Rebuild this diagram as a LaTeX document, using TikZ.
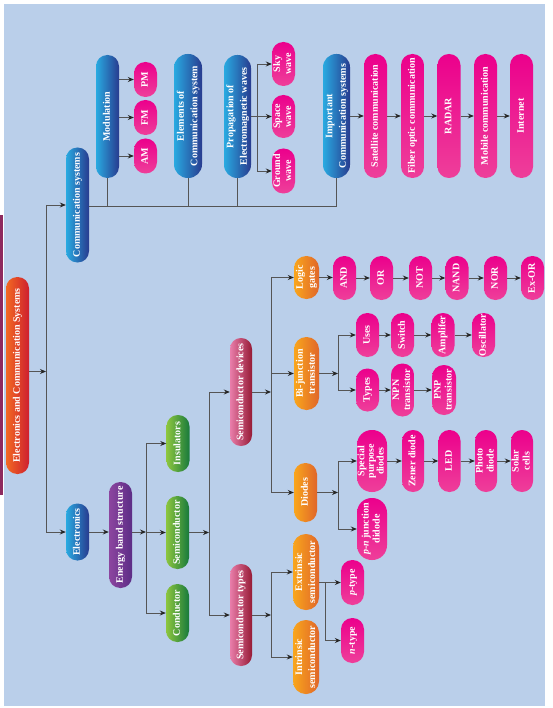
\documentclass[tikz,border=0pt]{standalone}
\usepackage{fontspec}
\setmainfont{Liberation Serif}
\usepackage{graphicx}
\usetikzlibrary{arrows.meta}
\definecolor{bgc}{HTML}{BACFEA}
\definecolor{stripc}{HTML}{8E2A5E}
\definecolor{lc}{HTML}{555555}
\definecolor{bA}{HTML}{29AAE1}
\definecolor{bB}{HTML}{283B8F}
\definecolor{pA}{HTML}{EC008C}
\definecolor{pB}{HTML}{EE3F9A}
\definecolor{oA}{HTML}{F9A61C}
\definecolor{oB}{HTML}{E0662A}
\definecolor{gA}{HTML}{8DC63F}
\definecolor{gB}{HTML}{187A3C}
\definecolor{vA}{HTML}{8C459F}
\definecolor{vB}{HTML}{5C2D86}
\definecolor{rA}{HTML}{E97DAA}
\definecolor{rB}{HTML}{961A35}
\definecolor{tA}{HTML}{F26922}
\definecolor{tB}{HTML}{CE1F2F}
\newcommand{\rt}[2][12pt]{\rotatebox{90}{\fontsize{10}{#1}\selectfont\begin{tabular}{@{}c@{}}#2\end{tabular}}}
\tikzset{
  every node/.style={font=\fontsize{10}{12}\selectfont\bfseries, text=white, inner sep=0pt},
  pill/.style 2 args={minimum width=#1pt, minimum height=#2pt, rounded corners=#1*0.49pt},
  bluebox/.style={left color=bA, right color=bB},
  pinkbox/.style={top color=pA, bottom color=pB},
  orangebox/.style={left color=oA, right color=oB},
  greenbox/.style={left color=gA, right color=gB},
  violetbox/.style={left color=vA, right color=vB},
  redbox/.style={left color=rA, right color=rB},
  rootbox/.style={left color=tA, right color=tB},
  line/.style={draw=lc, line width=0.9pt},
  arr/.style={line, -{Stealth[length=6pt,width=5pt,color=black!85]}},
}
\begin{document}
\begin{tikzpicture}[x=1pt,y=-1pt]
\useasboundingbox (0,0) rectangle (552,708);
\fill[bgc] (3.5,4) rectangle (545,706);
\fill[stripc] (0,215) rectangle (3,495);

% coordinates for buses
\coordinate (xr) at (46,0);
\coordinate (xa) at (146,0);
\coordinate (xb) at (209,0);
\coordinate (xc) at (271,0);
\coordinate (xd) at (338,0);
\coordinate (xe) at (325,0);
\coordinate (xp) at (257,0);
\coordinate (yc) at (0,206);

% root
\node[rootbox, pill={23}{197}] (root) at (17.5,375.5) {\rt{Electronics and Communication Systems}};

% communication
\node[bluebox, pill={23}{115}] (comm) at (77.5,205) {\rt{Communication systems}};
\node[bluebox, pill={23}{123}] (mod) at (107.5,116.5) {\rt{Modulation}};
\node[pinkbox, pill={23}{35}] (pm) at (145.5,79.5) {\rt{PM}};
\node[pinkbox, pill={23}{35}] (fm) at (145.5,117.5) {\rt{FM}};
\node[pinkbox, pill={23}{35}] (am) at (145.5,156) {\rt{AM}};
\node[bluebox, pill={28}{124}] (elem) at (188,116) {\rt[13.5pt]{Elements of\\Communication system}};
\node[bluebox, pill={27}{123}] (prop) at (237.5,116.5) {\rt[13.5pt]{Propagation of\\Electromagnetic waves}};
\node[pinkbox, pill={23}{44}] (sky) at (283.5,64) {\rt[11pt]{Sky\\wave}};
\node[pinkbox, pill={23}{43}] (space) at (283.5,116.5) {\rt[11pt]{Space\\wave}};
\node[pinkbox, pill={23}{45}] (ground) at (283.5,171) {\rt[11pt]{Ground\\wave}};
\node[bluebox, pill={27}{124}] (imp) at (336.5,116) {\rt[13.5pt]{Important\\Communication systems}};
\node[pinkbox, pill={23}{124}] (sat) at (375.5,116) {\rt{Satellite communication}};
\node[pinkbox, pill={23}{124}] (fiber) at (412.5,116) {\rt{Fiber optic communication}};
\node[pinkbox, pill={23}{124}] (radar) at (449,116) {\rt{RADAR}};
\node[pinkbox, pill={23}{124}] (mobile) at (485.5,116) {\rt{Mobile communication}};
\node[pinkbox, pill={23}{124}] (internet) at (521.5,116) {\rt{Internet}};

% electronics
\node[bluebox, pill={23}{57}] (elec) at (77.5,532) {\rt{Electronics}};
\node[violetbox, pill={23}{106}] (eb) at (120.5,535) {\rt{Energy band structure}};
\node[greenbox, pill={23}{57}] (ins) at (178,443.5) {\rt{Insulators}};
\node[greenbox, pill={23}{73}] (semi) at (177.5,532.5) {\rt{Semiconductor}};
\node[greenbox, pill={23}{58}] (cond) at (177.5,613) {\rt{Conductor}};
\node[redbox, pill={22}{108}] (sdev) at (241,392) {\rt{Semiconductor devices}};
\node[redbox, pill={22}{102}] (stype) at (241,615) {\rt{Semiconductor types}};

\node[orangebox, pill={25}{43}] (logic) at (306.5,277.5) {\rt{Logic\\gates}};
\node[pinkbox, pill={23}{44}] (and) at (344.5,278) {\rt{AND}};
\node[pinkbox, pill={23}{44}] (or) at (381.5,278) {\rt{OR}};
\node[pinkbox, pill={23}{44}] (not) at (420.5,278) {\rt{NOT}};
\node[pinkbox, pill={23}{44}] (nand) at (457,278) {\rt{NAND}};
\node[pinkbox, pill={23}{44}] (nor) at (495.5,278) {\rt{NOR}};
\node[pinkbox, pill={23}{44}] (exor) at (532.5,278) {\rt{Ex-OR}};

\node[orangebox, pill={25}{73}] (bjt) at (306.5,373.5) {\rt{Bi-junction\\transistor}};
\node[pinkbox, pill={23}{44}] (uses) at (367.5,335) {\rt{Uses}};
\node[pinkbox, pill={23}{44}] (switch) at (402.5,335) {\rt{Switch}};
\node[pinkbox, pill={23}{44}] (amp) at (443,335) {\rt{Amplifer}};
\node[pinkbox, pill={23}{44}] (osc) at (483.5,335) {\rt{Oscillator}};
\node[pinkbox, pill={23}{43}] (types) at (367.5,390) {\rt{Types}};
\node[pinkbox, pill={23}{53}] (npn) at (402.5,390) {\rt[11pt]{NPN\\transistor}};
\node[pinkbox, pill={24}{50}] (pnp) at (444,390) {\rt[11pt]{PNP\\transistor}};

\node[orangebox, pill={23}{59}] (diodes) at (305.5,492.5) {\rt{Diodes}};
\node[pinkbox, pill={30}{62}] (spd) at (372,461) {\rt[9.5pt]{Special\\purpose\\diodes}};
\node[pinkbox, pill={30}{62}] (pn) at (372,529) {\rt[11pt]{\textit{p}-\textit{n} junction\\didode}};
\node[pinkbox, pill={22}{62}] (zener) at (413,461) {\rt{Zener diode}};
\node[pinkbox, pill={22}{62}] (led) at (449.5,461) {\rt{LED}};
\node[pinkbox, pill={22}{62}] (photo) at (486,461) {\rt[11pt]{Photo\\diode}};
\node[pinkbox, pill={22}{62}] (solar) at (522,461) {\rt[11pt]{Solar\\cells}};

\node[orangebox, pill={26}{76}] (ext) at (306,572) {\rt[13pt]{Extrinsic\\semiconductor}};
\node[orangebox, pill={26}{74}] (int) at (306,657) {\rt[13pt]{Intrinsic\\semiconductor}};
\node[pinkbox, pill={23}{45}] (ptype) at (352.5,582.5) {\rt{\textit{p}-type}};
\node[pinkbox, pill={23}{45}] (ntype) at (352.5,640.5) {\rt{\textit{n}-type}};

% ---- connectors: communication
\draw[line] (comm.east |- yc) -- (imp.south |- yc) -- (imp.south);
\foreach \n in {mod,elem,prop} \draw[line] (\n.south) -- (\n.south |- yc);
\foreach \n in {pm,fm,am} \draw[arr] (mod.east |- \n.west) -- (\n.west);
\draw[arr] (prop.east) -- (space.west);
\draw[line] (xp |- sky.west) -- (xp |- ground.west);
\draw[arr] (xp |- sky.west) -- (sky.west);
\draw[arr] (xp |- ground.west) -- (ground.west);
\foreach \a/\b in {imp/sat,sat/fiber,fiber/radar,radar/mobile,mobile/internet}
  \draw[arr] (\a.east) -- (\a.east -| \b.west);

% ---- root
\draw[arr] ([yshift=4pt]root.east) -- ([yshift=4pt]root.east -| xr);
\draw[line] (xr |- comm.west) -- (xr |- elec.west);
\draw[arr] (xr |- comm.west) -- (comm.west);
\draw[arr] (xr |- elec.west) -- (elec.west);

% ---- electronics
\draw[arr] (elec.east) -- (elec.east -| eb.west);
\draw[arr] (eb.east |- elec.east) -- (xa |- elec.east);
\draw[line] (xa |- ins.west) -- (xa |- cond.west);
\foreach \n in {ins,semi,cond} \draw[arr] (xa |- \n.west) -- (\n.west);
\draw[arr] (semi.east) -- (semi.east -| xb);
\draw[line] (xb |- sdev.west) -- (xb |- stype.west);
\foreach \n in {sdev,stype} \draw[arr] (xb |- \n.west) -- (\n.west);

% semiconductor devices
\draw[arr] (sdev.east) -- (sdev.east -| xc);
\draw[line] (xc |- logic.west) -- (xc |- diodes.west);
\foreach \n in {logic,bjt,diodes} \draw[arr] (xc |- \n.west) -- (\n.west);
\foreach \a/\b in {logic/and,and/or,or/not,not/nand,nand/nor,nor/exor}
  \draw[arr] (\a.east) -- (\a.east -| \b.west);

\draw[arr] (bjt.east) -- (bjt.east -| xd);
\draw[line] (xd |- uses.west) -- (xd |- types.west);
\foreach \n in {uses,types} \draw[arr] (xd |- \n.west) -- (\n.west);
\foreach \a/\b in {uses/switch,switch/amp,amp/osc,types/npn,npn/pnp}
  \draw[arr] (\a.east) -- (\a.east -| \b.west);

\draw[arr] (diodes.east) -- (diodes.east -| xd);
\draw[line] (xd |- spd.west) -- (xd |- pn.west);
\foreach \n in {spd,pn} \draw[arr] (xd |- \n.west) -- (\n.west);
\foreach \a/\b in {spd/zener,zener/led,led/photo,photo/solar}
  \draw[arr] (\a.east) -- (\a.east -| \b.west);

% semiconductor types
\draw[arr] (stype.east) -- (stype.east -| xc);
\draw[line] (xc |- ext.west) -- (xc |- int.west);
\foreach \n in {ext,int} \draw[arr] (xc |- \n.west) -- (\n.west);
\draw[arr] (ext.east |- ptype.west) -- (ptype.west);
\draw[line] (xe |- ptype.west) -- (xe |- ntype.west);
\draw[arr] (xe |- ntype.west) -- (ntype.west);
\end{tikzpicture}
\end{document}
